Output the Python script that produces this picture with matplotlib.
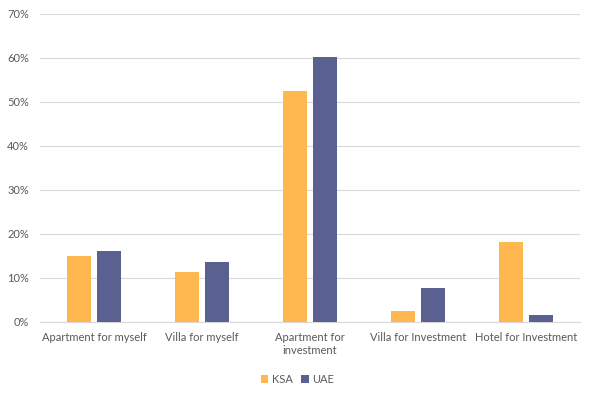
import numpy as np
import matplotlib.pyplot as plt
from matplotlib.ticker import PercentFormatter

categories = ['Apartment for myself', 'Villa for myself', 'Apartment for\ninvestment',
              'Villa for Investment', 'Hotel for Investment']
ksa = [15.0, 11.4, 52.6, 2.5, 18.2]
uae = [16.1, 13.6, 60.2, 7.7, 1.6]

plt.rcParams['font.family'] = ['Lato', 'DejaVu Sans']

fig = plt.figure(figsize=(5.95, 3.99), dpi=100)
ax = fig.add_axes([0.0672, 0.193, 0.9076, 0.772])

x = np.arange(len(categories))
w = 0.222
ax.bar(x - 0.139, ksa, w, color='#FFB84F', label='KSA', zorder=3)
ax.bar(x + 0.139, uae, w, color='#5A6090', label='UAE', zorder=3)

ax.set_xlim(-0.5, 4.5)
ax.set_ylim(0, 70)
ax.set_yticks(np.arange(0, 71, 10))
ax.yaxis.set_major_formatter(PercentFormatter(decimals=0))
ax.grid(axis='y', color='#D9D9D9', lw=0.8, zorder=0)
for s in ['top', 'right', 'left']:
    ax.spines[s].set_visible(False)
ax.spines['bottom'].set_color('#D9D9D9')
ax.tick_params(axis='both', length=0, colors='#595959', labelsize=8)
ax.tick_params(axis='y', pad=8)
ax.tick_params(axis='x', pad=7)
ax.set_xticks(x)
ax.set_xticklabels(categories, linespacing=1.3)

fig.legend(loc='lower center', bbox_to_anchor=(0.5, 0.01), ncol=2, frameon=False,
           fontsize=8, labelcolor='#595959', handlelength=0.7, handleheight=0.7,
           handletextpad=0.3, columnspacing=0.8)

plt.savefig('out.png')
